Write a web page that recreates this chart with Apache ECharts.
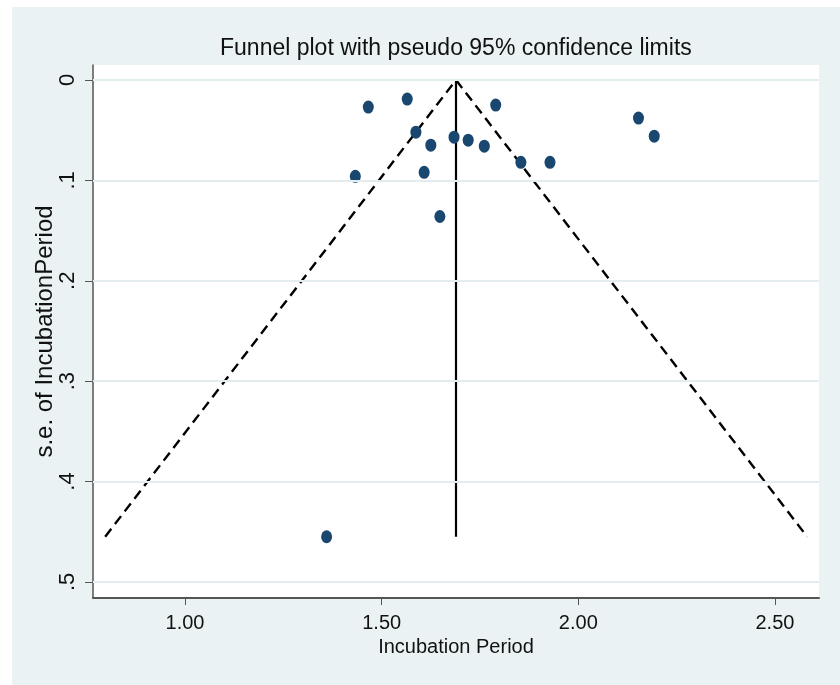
<!DOCTYPE html>
<html>
<head>
<meta charset="utf-8">
<title>Funnel plot</title>
<script src="https://cdn.jsdelivr.net/npm/echarts@6/dist/echarts.min.js"></script>
<style>
  html, body { margin: 0; padding: 0; background: #fff; }
  #main { position: absolute; left: 12px; top: 7px; width: 828px; height: 678px; }
</style>
</head>
<body>
<div id="main"></div>
<script>
// study estimates (x) and their standard errors (y)
var effect = [1.466, 1.565, 1.790, 2.153, 2.193, 1.587, 1.625, 1.684, 1.720, 1.761, 1.854, 1.928, 1.433, 1.608, 1.648, 1.360];
var stdErr = [0.027, 0.019, 0.025, 0.038, 0.056, 0.052, 0.065, 0.057, 0.060, 0.066, 0.082, 0.082, 0.096, 0.092, 0.136, 0.455];

// pooled estimate and pseudo 95% limits
var pooledX = [1.689, 1.689];
var pooledY = [0, 0.455];
var funnelX = [0.797, 1.689, 2.582];
var funnelY = [0.455, 0, 0.455];

var xTicks = [1.0, 1.5, 2.0, 2.5];
var yTicks = [0, 0.1, 0.2, 0.3, 0.4, 0.5];

var font = "'Liberation Sans', Arial, sans-serif";

var chart = echarts.init(document.getElementById('main'));

var pts = effect.map(function (x, i) { return [x, stdErr[i]]; });
var funnel = funnelX.map(function (x, i) { return [x, funnelY[i]]; });
var pooled = pooledX.map(function (x, i) { return [x, pooledY[i]]; });

var option = {
  backgroundColor: '#eaf2f3',
  animation: false,
  title: {
    text: 'Funnel plot with pseudo 95% confidence limits',
    left: 208,
    top: 30,
    padding: 0,
    textStyle: { fontFamily: font, fontSize: 23, fontWeight: 'normal', color: '#111' }
  },
  grid: {
    left: 81, right: 21, top: 58, bottom: 87,
    show: true, backgroundColor: '#ffffff', borderWidth: 0
  },
  xAxis: {
    type: 'value',
    min: 0.766, max: 2.612,
    name: 'Incubation Period',
    nameLocation: 'middle',
    nameGap: 38,
    nameTextStyle: { fontFamily: font, fontSize: 20, color: '#111' },
    axisLine: { show: true, onZero: false, lineStyle: { color: '#555', width: 2 } },
    axisTick: { show: true, length: 7, customValues: xTicks, lineStyle: { color: '#555', width: 1 } },
    axisLabel: {
      customValues: xTicks, margin: 15,
      fontFamily: font, fontSize: 20, color: '#111',
      formatter: function (v) { return v.toFixed(2); }
    },
    splitLine: { show: false }
  },
  yAxis: {
    type: 'value',
    inverse: true,
    min: -0.0149, max: 0.516,
    name: 's.e. of IncubationPeriod',
    nameLocation: 'middle',
    nameRotate: 90,
    nameGap: 36,
    nameMoveOverlap: false,
    nameTextStyle: { fontFamily: font, fontSize: 24, color: '#111' },
    axisLine: { show: true, onZero: false, lineStyle: { color: '#555', width: 1.5 } },
    axisTick: { show: true, length: 8, customValues: yTicks, lineStyle: { color: '#555', width: 1 } },
    axisLabel: {
      customValues: yTicks, rotate: 90, margin: 14,
      fontFamily: font, fontSize: 22, color: '#111',
      formatter: function (v) { return v === 0 ? '0' : ('' + +v.toFixed(1)).replace(/^0\./, '.'); }
    },
    splitLine: { show: false }
  },
  series: [
    {
      type: 'line',
      data: yTicks.map(function (y) { return [0.766, y]; }),
      showSymbol: false,
      lineStyle: { width: 0 },
      silent: true,
      markLine: {
        silent: true,
        symbol: 'none',
        label: { show: false },
        lineStyle: { type: 'solid', color: '#e3ecef', width: 2 },
        data: yTicks.map(function (y) { return { yAxis: y }; })
      },
      z: 1
    },
    {
      type: 'line',
      data: funnel,
      showSymbol: false,
      lineStyle: { color: '#000', width: 2.4, type: [10, 6] },
      z: 3
    },
    {
      type: 'line',
      data: pooled,
      showSymbol: false,
      lineStyle: { color: '#000', width: 2.2 },
      z: 3
    },
    {
      type: 'scatter',
      data: pts,
      symbol: 'circle',
      symbolSize: [11, 13],
      itemStyle: { color: '#1a476f', opacity: 1 },
      z: 4
    }
  ]
};

chart.setOption(option);
</script>
</body>
</html>
